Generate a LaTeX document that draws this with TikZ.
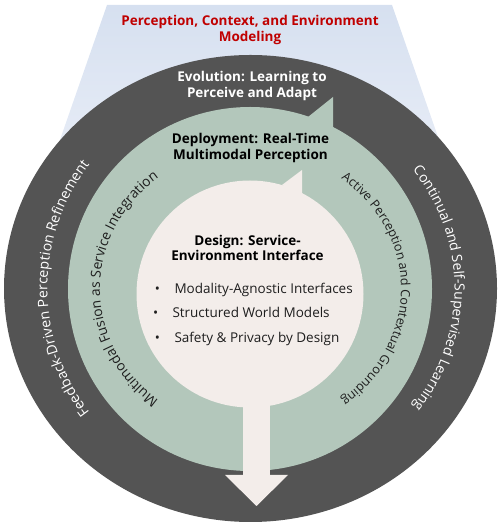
\documentclass[tikz,border=0pt]{standalone}
\usepackage{fontspec}
\setmainfont{Open Sans}
\usetikzlibrary{decorations.text}
\definecolor{darkring}{HTML}{545454}
\definecolor{greenring}{HTML}{B3C7BB}
\definecolor{lightcore}{HTML}{F3EDEA}
\definecolor{bluetop}{HTML}{D6E0F0}
\definecolor{bluebot}{HTML}{ECF0F8}
\definecolor{titlered}{HTML}{C00000}
\definecolor{inktext}{HTML}{1E1E1E}
\newcommand\dkleftfont{\fontsize{14.2}{16}\selectfont\color{white}}
\newcommand\dkrightfont{\fontsize{14}{16}\selectfont\color{white}}
\newcommand\grleftfont{\fontsize{13.8}{16}\selectfont\color{inktext}}
\newcommand\grrightfont{\fontsize{12.6}{16}\selectfont\color{inktext}}
\begin{document}
\begin{tikzpicture}[x=1pt,y=1pt,
  heading/.style={font=\fontsize{13.5}{15.7}\selectfont\bfseries, align=center, anchor=base},
  bullet/.style={font=\fontsize{13.5}{16}\selectfont, text=inktext, anchor=base, inner sep=0pt},
  item/.style={font=\fontsize{13.5}{16}\selectfont, text=inktext, anchor=base west, inner sep=0pt},
  arctext/.style={decorate, decoration={text along path, text align=center, text={#1}}}]
\useasboundingbox (0,0) rectangle (499,527);
% background trapezoid
\shade[top color=bluetop, bottom color=bluebot] (107,522) -- (392,522) -- (460,327) -- (39,327) -- cycle;
% rings
\coordinate (dkc) at (250.5,238.5);
\coordinate (grc) at (250,238);
\coordinate (ltc) at (250,233);
\fill[darkring] (dkc) ellipse[x radius=246.5, y radius=233.5];
\fill[greenring] (grc) circle[radius=182];
\fill[greenring] (308,410) -- (333,430) -- (333,395) -- cycle;
\fill[lightcore] (ltc) circle[radius=113.5];
\fill[lightcore] (282,342) -- (302,357) -- (302,330) -- cycle;
\fill[lightcore] (243,200) rectangle (270,52);
\fill[lightcore] (225,52) -- (288,52) -- (256.5,21) -- cycle;
% headings (anchor = baseline of last line)
\node[heading, text=titlered] (title) at (250,485.5) {Perception, Context, and Environment\\Modeling};
\node[heading, text=white] (evo) at (252,429.7) {Evolution: Learning to\\Perceive and Adapt};
\node[heading, text=black] (dep) at (250.5,367.7) {Deployment: Real-Time\\Multimodal Perception};
\node[heading, text=black] (des) at (247.5,266) {Design: Service-\\Environment Interface};
% bullets
\node[bullet] (b1) at (157.3,233) {•};
\node[item] (t1) at (174.3,233) {Modality-Agnostic Interfaces};
\node[bullet] (b2) at (155.7,209.7) {•};
\node[item] (t2) at (172.3,209.7) {Structured World Models};
\node[bullet] (b3) at (157.3,184.3) {•};
\node[item] (t3) at (174.3,184.3) {Safety \& Privacy by Design};
% curved texts
\path[arctext={|\dkleftfont|Feedback-Driven Perception Refinement}]
  (dkc) ++(240:203) arc[start angle=240, end angle=120, radius=203];
\path[arctext={|\dkrightfont|Continual and Self-Supervised Learning}]
  (dkc) ++(60:204 and 195) arc[start angle=60, end angle=-60, x radius=204, y radius=195];
\path[arctext={|\grleftfont|Multimodal Fusion as Service Integration}]
  (grc) ++(250:150 and 140) arc[start angle=250, end angle=110, x radius=150, y radius=140];
\path[arctext={|\grrightfont|Active Perception and Contextual Grounding}]
  (grc) ++(70:151 and 138) arc[start angle=70, end angle=-70, x radius=151, y radius=138];
\end{tikzpicture}
\end{document}
